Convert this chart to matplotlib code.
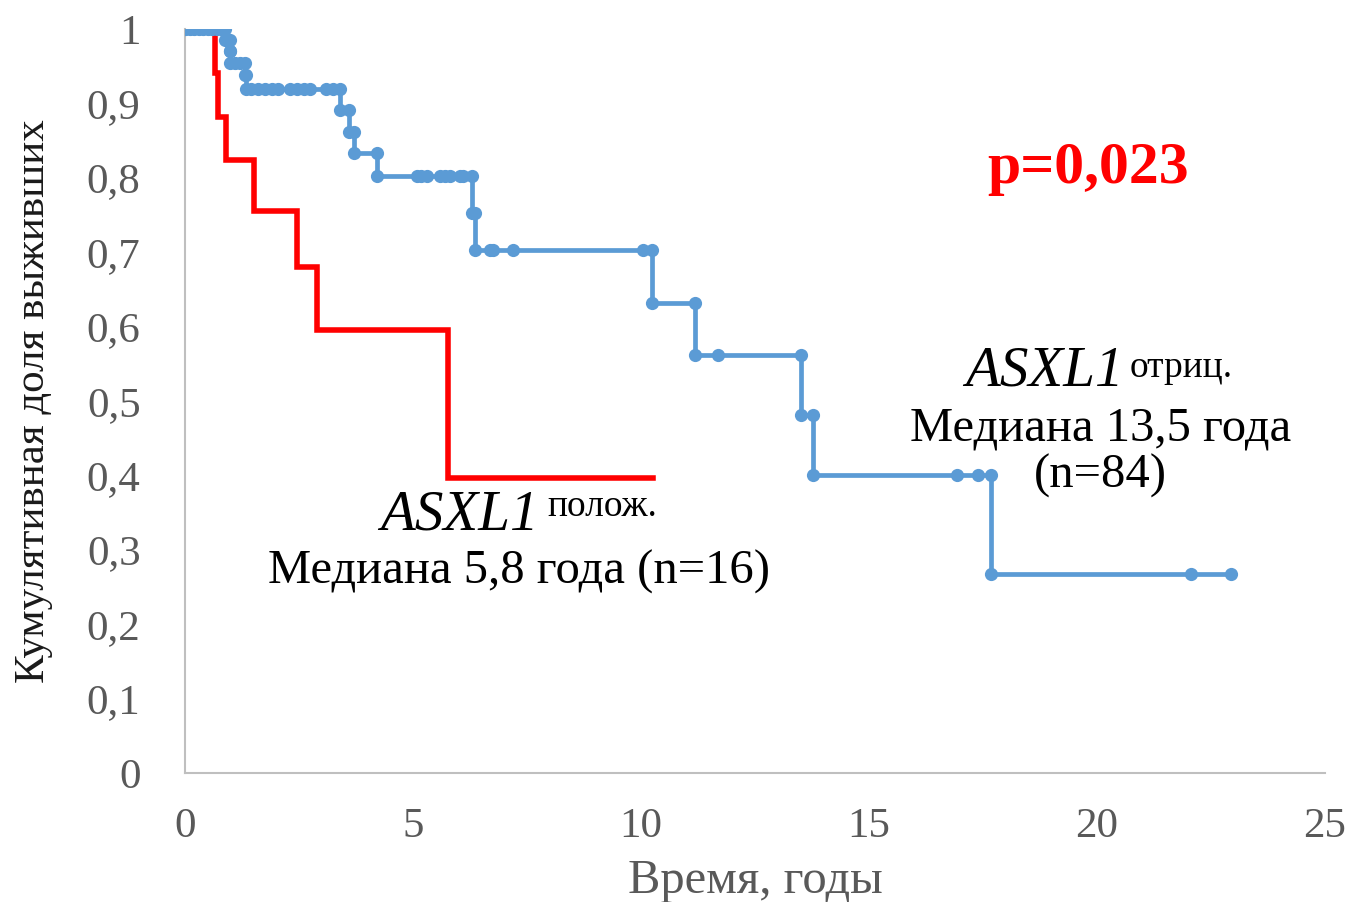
import numpy as np
import matplotlib.pyplot as plt

# Kaplan-Meier curves, ASXL1 mutation status
neg_event_t = [0.88, 0.98, 0.99, 1.32, 1.34, 3.40, 3.60, 3.70, 4.21, 6.29, 6.36,
               10.24, 11.18, 13.50, 13.77, 17.68]
neg_event_s = [0.985, 0.970, 0.955, 0.938, 0.920, 0.891, 0.862, 0.833, 0.802,
               0.753, 0.703, 0.632, 0.562, 0.481, 0.401, 0.267]
neg_censor_t = [0.0, 0.1, 0.2, 0.3, 0.4, 0.5, 0.6, 0.7, 0.8,
                1.1, 1.2,
                1.45, 1.6, 1.75, 1.9, 2.05, 2.3, 2.45, 2.6, 2.75, 3.1, 3.25,
                5.09, 5.18, 5.31, 5.59, 5.70, 5.81, 6.03, 6.10,
                6.69, 6.75, 7.19, 10.04,
                11.69,
                16.93, 17.39,
                22.06, 22.94]

pos_event_t = [0.66, 0.72, 0.90, 1.51, 2.46, 2.89, 5.77]
pos_event_s = [0.941, 0.882, 0.824, 0.755, 0.680, 0.595, 0.397]
pos_last_t = 10.26

x_ticks = [0, 5, 10, 15, 20, 25]
y_ticks = [0, 0.1, 0.2, 0.3, 0.4, 0.5, 0.6, 0.7, 0.8, 0.9, 1.0]


def step_vertices(event_t, event_s, censor_t=(), end_t=None):
    items = [(t, 0, s) for t, s in zip(event_t, event_s)]
    items += [(t, 1, None) for t in censor_t]
    items.sort(key=lambda it: (it[0], it[1]))
    xs, ys = [0.0], [1.0]
    cur = 1.0
    for t, kind, s in items:
        if kind == 0:
            xs += [t, t]
            ys += [cur, s]
            cur = s
        else:
            xs.append(t)
            ys.append(cur)
    if end_t is not None:
        xs.append(end_t)
        ys.append(cur)
    return np.array(xs), np.array(ys)


plt.rcParams['font.family'] = ['Liberation Serif', 'DejaVu Serif']

fig = plt.figure(figsize=(13.52, 9.02), dpi=100)
ax = fig.add_axes([0.1368, 0.1430, 0.8432, 0.8248])

px, py = step_vertices(pos_event_t, pos_event_s, end_t=pos_last_t)
ax.plot(px, py, color='#FF0000', lw=4.0, solid_joinstyle='miter', zorder=2)

nx, ny = step_vertices(neg_event_t, neg_event_s, neg_censor_t)
ax.plot(nx, ny, color='#5B9BD5', lw=3.4, marker='o', ms=9.5,
        markeredgewidth=0, zorder=3)

ax.set_xlim(0, 25)
ax.set_ylim(0, 1)
ax.set_xticks(x_ticks)
ax.set_yticks(y_ticks)
ax.set_xticklabels([str(v) for v in x_ticks])
ax.set_yticklabels(['0' if v == 0 else ('1' if v == 1 else f'{v:.1f}'.replace('.', ','))
                    for v in y_ticks])
ax.tick_params(axis='both', length=0, labelsize=31, labelcolor='#595959')
ax.tick_params(axis='y', pad=32)
ax.tick_params(axis='x', pad=25)

for side in ['top', 'right']:
    ax.spines[side].set_visible(False)
ax.spines['left'].set_color('#BFBFBF')
ax.spines['bottom'].set_color('#BFBFBF')
ax.spines['left'].set_linewidth(1.5)
ax.spines['bottom'].set_linewidth(1.5)

ax.set_xlabel('Время, годы', fontsize=35, color='#595959', labelpad=9)
ax.set_ylabel('Кумулятивная доля выживших', fontsize=31, color='#1a1a1a', labelpad=24)

# p-value and group captions
ax.text(19.8, 0.793, 'p=0,023', color='#FF0000', fontsize=43, fontweight='bold',
        ha='center', va='baseline')

ax.text(4.28, 0.327, 'ASXL1', fontsize=41, style='italic', ha='left', va='baseline')
ax.text(7.95, 0.381, 'полож.', fontsize=27, ha='left', va='top')
ax.text(7.32, 0.255, 'Медиана 5,8 года (n=16)', fontsize=35, ha='center', va='baseline')

ax.text(17.1, 0.5215, 'ASXL1', fontsize=41, style='italic', ha='left', va='baseline')
ax.text(20.72, 0.568, 'отриц.', fontsize=27, ha='left', va='top')
ax.text(20.07, 0.4476, 'Медиана 13,5 года', fontsize=35, ha='center', va='baseline')
ax.text(20.07, 0.383, '(n=84)', fontsize=35, ha='center', va='baseline')

fig.savefig('out.png', dpi=100)
